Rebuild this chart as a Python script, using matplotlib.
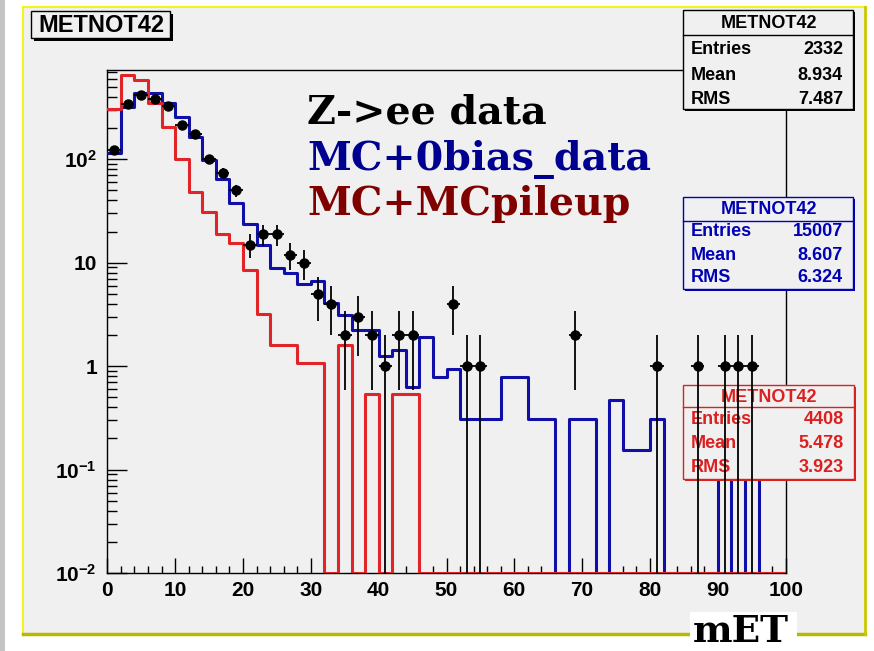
import numpy as np
import matplotlib
matplotlib.use("Agg")
import matplotlib.pyplot as plt
from matplotlib.patches import Rectangle
from matplotlib.lines import Line2D
from matplotlib.ticker import MultipleLocator, LogLocator, FuncFormatter, NullFormatter

plt.rcParams["mathtext.fontset"] = "custom"
plt.rcParams["mathtext.bf"] = "Liberation Sans:bold"
plt.rcParams["mathtext.rm"] = "Liberation Sans:bold"

# mET histograms, 2 GeV bins from 0 to 100
bin_edges = np.arange(0, 102, 2)

data_counts = [123, 345, 418, 383, 328, 214, 176, 100, 74, 50,
               15, 19, 19, 12, 10, 5, 4, 2, 3, 2,
               1, 2, 2, 0, 0, 4, 1, 1, 0, 0,
               0, 0, 0, 0, 2, 0, 0, 0, 0, 0,
               1, 0, 0, 1, 0, 1, 1, 1, 0, 0]

mc_zerobias = [116, 323, 435, 435, 347, 258, 165, 98, 64, 38,
               23.6, 14.8, 8.8, 7.9, 6.3, 6.7, 4.1, 3.1, 2.26, 2.26,
               1.25, 1.43, 0.63, 1.9, 0.78, 0.93, 0.31, 0.31, 0.31, 0.78,
               0.78, 0.31, 0.31, 0, 0.31, 0.31, 0, 0.47, 0.156, 0.156,
               0.31, 0, 0, 0, 0, 0.31, 0, 0.31, 0, 0]

mc_pileup = [310, 653, 585, 347, 207, 100, 48, 31, 19, 15.5,
             8.6, 3.2, 1.6, 1.6, 1.08, 1.08, 0, 1.6, 0, 0.54,
             0, 0.54, 0.54, 0, 0, 0, 0, 0, 0, 0,
             0, 0, 0, 0, 0, 0, 0, 0, 0, 0,
             0, 0, 0, 0, 0, 0, 0, 0, 0, 0]

stat_names = ["Entries", "Mean", "RMS"]
data_stats = ["2332", "8.934", "7.487"]
zerobias_stats = ["15007", "8.607", "6.324"]
pileup_stats = ["4408", "5.478", "3.923"]
hist_name = "METNOT42"
legend_labels = ["Z->ee data", "MC+0bias_data", "MC+MCpileup"]
legend_colors = ["black", "#000090", "#800000"]

BLUE = "#1010a8"
RED = "#e02428"
BG = "#f0f0f0"
YMIN, YMAX = 0.01, 731

W, H = 874, 651
fig = plt.figure(figsize=(W / 100, H / 100), dpi=100)
fig.patch.set_facecolor("white")


def frect(x0, y0, x1, y1, **kw):
    # rectangle given in pixel coords (origin top-left)
    return Rectangle((x0 / W, 1 - y1 / H), (x1 - x0) / W, (y1 - y0) / H,
                     transform=fig.transFigure, **kw)


def fline(x0, y0, x1, y1, **kw):
    return Line2D([x0 / W, x1 / W], [1 - y0 / H, 1 - y1 / H],
                  transform=fig.transFigure, **kw)


# canvas strip and yellow pad border
fig.add_artist(frect(0, 0, 5, H, facecolor="#c4c4c4", edgecolor="none", zorder=-3))
fig.add_artist(frect(23, 7, 865, 634, facecolor=BG, edgecolor="none", zorder=-3))
fig.add_artist(fline(23, 7, 865, 7, color="#f4f41c", lw=1.5, zorder=-2))
fig.add_artist(fline(23, 7, 23, 634, color="#f4f41c", lw=1.5, zorder=-2))
fig.add_artist(fline(23, 634, 865, 634, color="#b8b800", lw=2.5, zorder=-2))
fig.add_artist(fline(865, 7, 865, 634, color="#c8c800", lw=2.0, zorder=-2))

ax = fig.add_axes([107.3 / W, 1 - 573 / H, 678.4 / W, 503 / H])
ax.set_facecolor(BG)
ax.set_yscale("log")
ax.set_xlim(0, 100)
ax.set_ylim(YMIN, YMAX)

# MC histograms as steps; empty bins sit on the frame bottom
for vals, col, z in [(mc_zerobias, BLUE, 2.6), (mc_pileup, RED, 2.7)]:
    v = np.clip(np.asarray(vals, float), YMIN, None)
    ax.step(bin_edges, np.append(v, v[-1]), where="post", color=col,
            lw=2.2, zorder=z)

# data points with Poisson errors
centers = (bin_edges[:-1] + bin_edges[1:]) / 2
counts = np.asarray(data_counts, float)
filled = counts > 0
ax.errorbar(centers[filled], counts[filled], yerr=np.sqrt(counts[filled]),
            xerr=np.diff(bin_edges)[filled] / 2, fmt="o", color="black",
            ms=6.5, elinewidth=1.3, capsize=0, zorder=4)

for s in ax.spines.values():
    s.set_linewidth(1.0)
    s.set_color("black")

ax.xaxis.set_major_locator(MultipleLocator(10))
ax.xaxis.set_minor_locator(MultipleLocator(2))
ax.yaxis.set_major_locator(LogLocator(base=10, numticks=10))
ax.yaxis.set_minor_locator(LogLocator(base=10, subs=np.arange(2, 10), numticks=20))
ax.yaxis.set_minor_formatter(NullFormatter())


def ylab(v, pos):
    e = int(round(np.log10(v)))
    if e == 0:
        return "1"
    if e == 1:
        return "10"
    return r"$\mathbf{10^{%d}}$" % e


ax.yaxis.set_major_formatter(FuncFormatter(ylab))
ax.tick_params(which="both", direction="in", top=False, right=False,
               width=1.0, color="black")
ax.tick_params(axis="y", which="major", length=14.4, pad=7.5)
ax.tick_params(axis="y", which="minor", length=7.2)
ax.tick_params(axis="x", which="major", length=10.8, pad=6.0)
ax.tick_params(axis="x", which="minor", length=5.4)
for lab in ax.get_xticklabels() + ax.get_yticklabels():
    lab.set_fontfamily("Liberation Sans")
    lab.set_fontweight("bold")
    lab.set_fontsize(15)

SANS = dict(family="Liberation Sans", weight="bold", fontsize=13)


def ftext(x, y, s, **kw):
    return ax.text(x / W, 1 - y / H, s, transform=fig.transFigure,
                   clip_on=False, **kw)


def stats_box(x0, y0, x1, y1, y_sep, y_head, row_ys, values, col, z):
    ax.add_artist(frect(x0 + 2, y0 + 2, x1 + 2, y1 + 2, facecolor=col,
                        edgecolor="none", clip_on=False, zorder=z))
    ax.add_artist(frect(x0, y0, x1, y1, facecolor=BG, edgecolor=col,
                        lw=1.0, clip_on=False, zorder=z))
    ax.add_artist(fline(x0, y_sep, x1, y_sep, color=col, lw=1.0,
                        clip_on=False, zorder=z))
    ftext((x0 + x1) / 2 + 1, y_head, hist_name, color=col, ha="center",
          va="center", zorder=z, **SANS)
    for name, val, yy in zip(stat_names, values, row_ys):
        ftext(x0 + 8, yy, name, color=col, ha="left", va="center", zorder=z, **SANS)
        ftext(x1 - 10, yy, val, color=col, ha="right", va="center", zorder=z, **SANS)


stats_box(683, 10, 853, 109, 35, 23, [49, 75, 99], data_stats, "black", 6)
stats_box(683, 197, 853, 289, 221, 209, [232, 255, 277], zerobias_stats, "#0000b4", 6)
stats_box(683, 385, 854, 479, 407, 397, [420, 443, 467], pileup_stats, "#dc2020", 3)

# title box
ax.add_artist(frect(34, 14, 173, 41, facecolor="black", edgecolor="none",
                    clip_on=False, zorder=6))
ax.add_artist(frect(31, 11, 170, 38, facecolor=BG, edgecolor="black",
                    lw=1.0, clip_on=False, zorder=6))
ftext(101, 25, hist_name, color="black", ha="center", va="center", zorder=6,
      family="Liberation Sans", weight="bold", fontsize=17)

# legend text
for lab, col, yb in zip(legend_labels, legend_colors, [123, 170, 215]):
    ftext(307, yb, lab, color=col, ha="left", va="baseline", zorder=6,
          family="DejaVu Serif", weight="bold", fontsize=28.5)

# x axis title
ax.add_artist(frect(690, 612, 797, 652, facecolor="white", edgecolor="none",
                    clip_on=False, zorder=6))
ftext(693, 650, "mET", color="black", ha="left", va="bottom", zorder=7,
      family="DejaVu Serif", weight="bold", fontsize=27)

fig.savefig("out.png", dpi=100, facecolor="white")
